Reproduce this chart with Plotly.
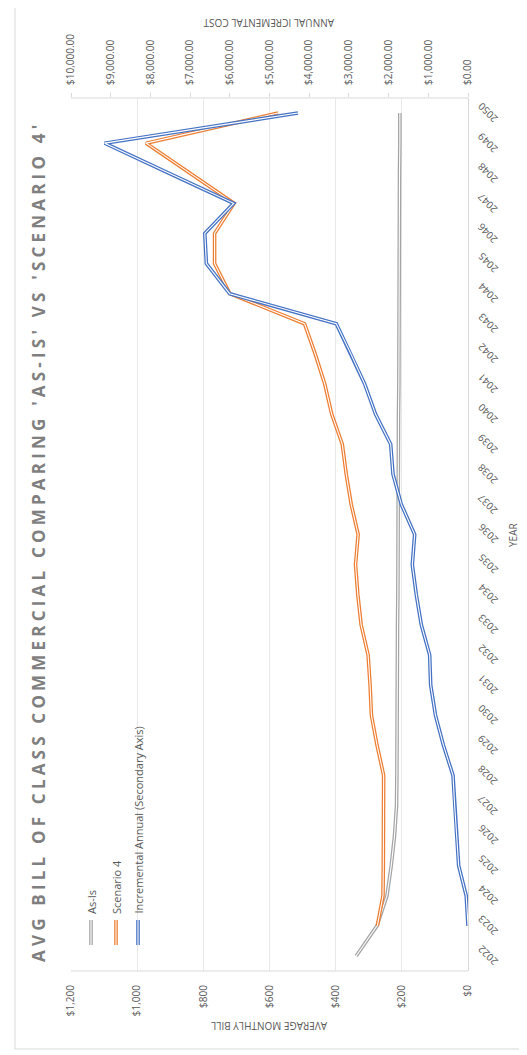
import plotly.graph_objects as go

years = list(range(2022, 2051))
as_is = [338, 275, 245, 232, 222, 216, 215, 215, 214, 214, 213, 213, 212, 212, 212,
         211, 211, 210, 210, 209, 209, 208, 208, 208, 207, 207, 207, 206, 206]
scenario4 = [None, 274, 257, 256, 256, 255, 255, 275, 292, 296, 302, 323, 333, 340, 332,
             353, 368, 380, 412, 433, 462, 494, 720, 766, 766, 707, 840, 973, 574]
incremental = [None, 0, 45, 235, 290, 336, 378, 620, 820, 940, 966, 1176, 1302, 1403, 1343,
               1680, 1889, 1948, 2330, 2603, 2950, 3317, 6003, 6590, 6630, 5902, 7527, 9152, 4282]

title_text = "AVG BILL OF CLASS COMMERCIAL COMPARING 'AS-IS' VS 'SCENARIO 4'"
series_names = ["As-Is", "Scenario 4", "Incremental Annual (Secondary Axis)"]
colors = ["#A5A5A5", "#ED7D31", "#4472C4"]
primary_ticks = [0, 200, 400, 600, 800, 1000, 1200]
secondary_ticks = list(range(0, 10001, 1000))

W, H = 527, 1055
L, R, T, B = 63, 460, 90, 963
TXT = "#595959"
FONT = "Open Sans"


def px(x):
    return (x - L) / (R - L)


def py(y):
    return (B - y) / (B - T)


fig = go.Figure()

data = [(as_is, "x"), (scenario4, "x"), (incremental, "x2")]
for (vals, xa), name, col in zip(data, series_names, colors):
    fig.add_trace(go.Scatter(x=vals, y=years, xaxis=xa, yaxis="y", mode="lines",
                             line=dict(color=col, width=3.6), name=name,
                             showlegend=False, hoverinfo="skip", connectgaps=False))
    fig.add_trace(go.Scatter(x=vals, y=years, xaxis=xa, yaxis="y", mode="lines",
                             line=dict(color="white", width=1.1), name=name,
                             showlegend=False, hoverinfo="skip", connectgaps=False))

shapes = []
annotations = []

# outer chart border
shapes.append(dict(type="rect", xref="paper", yref="paper",
                   x0=px(7), x1=px(560), y0=py(1041), y1=py(-20),
                   line=dict(color="#D9D9D9", width=1), fillcolor="rgba(0,0,0,0)", layer="below"))
# top and bottom plot lines
for yy in (T, B):
    shapes.append(dict(type="line", xref="paper", yref="paper", x0=0, x1=1, y0=py(yy), y1=py(yy),
                       line=dict(color="#D9D9D9", width=1), layer="below"))

# legend (rotated)
leg_x = [83, 108, 130]
for lx, name, col in zip(leg_x, series_names, colors):
    shapes.append(dict(type="line", xref="paper", yref="paper", x0=px(lx), x1=px(lx),
                       y0=py(912), y1=py(937), line=dict(color=col, width=3.6)))
    shapes.append(dict(type="line", xref="paper", yref="paper", x0=px(lx), x1=px(lx),
                       y0=py(912), y1=py(937), line=dict(color="white", width=1.1)))
    annotations.append(dict(text=name, xref="paper", yref="paper", x=px(lx), y=py(908),
                            xanchor="center", yanchor="bottom", textangle=-90, showarrow=False,
                            font=dict(family=FONT, size=11, color=TXT)))

# year labels (angled)
for yr in years:
    annotations.append(dict(text=str(yr), xref="paper", yref="y", x=px(480), y=yr,
                            xanchor="center", yanchor="middle", textangle=-135, showarrow=False,
                            font=dict(family=FONT, size=10, color=TXT)))

# title
annotations.append(dict(text='<span style="letter-spacing:4.2px"><b>' + title_text + "</b></span>",
                        xref="paper", yref="paper",
                        x=px(30), y=py(534), xanchor="center", yanchor="middle", textangle=-90,
                        showarrow=False, font=dict(family=FONT, size=17, color="#7F7F7F")))
# axis titles
annotations.append(dict(text="AVERAGE MONTHLY BILL", xref="paper", yref="paper",
                        x=px(261), y=py(1018), xanchor="center", yanchor="middle", textangle=180,
                        showarrow=False, font=dict(family=FONT, size=10, color=TXT)))
annotations.append(dict(text="ANNUAL ICREMENTAL COST", xref="paper", yref="paper",
                        x=px(261), y=py(15), xanchor="center", yanchor="middle", textangle=180,
                        showarrow=False, font=dict(family=FONT, size=10, color=TXT)))
annotations.append(dict(text="YEAR", xref="paper", yref="paper",
                        x=px(505), y=py(527), xanchor="center", yanchor="middle", textangle=-90,
                        showarrow=False, font=dict(family=FONT, size=10, color=TXT)))

fig.update_layout(
    width=W, height=H,
    margin=dict(l=L, r=W - R, t=T, b=H - B, pad=0),
    paper_bgcolor="white", plot_bgcolor="white",
    showlegend=False,
    font=dict(family=FONT, color=TXT, size=10),
    xaxis=dict(range=[1200, 0], tickvals=primary_ticks,
               ticktext=["$" + format(v, ",") for v in primary_ticks],
               tickangle=-90, showgrid=True, gridcolor="#E8E8E8", gridwidth=1,
               zeroline=False, showline=False, ticks="outside", ticklen=9, tickcolor="white",
               tickfont=dict(family=FONT, size=10, color=TXT), fixedrange=True),
    xaxis2=dict(range=[10000, 0], overlaying="x", side="top", anchor="y",
                tickvals=secondary_ticks,
                ticktext=["$" + format(v, ",.2f") for v in secondary_ticks],
                tickangle=-90, showgrid=False, zeroline=False, showline=False,
                ticks="outside", ticklen=4, tickcolor="#D9D9D9", ticklabelstandoff=6,
                tickfont=dict(family=FONT, size=10, color=TXT), fixedrange=True),
    yaxis=dict(range=[2021.5, 2050.5], side="right", tickvals=years,
               showticklabels=False,
               showgrid=False, zeroline=False, showline=True, linecolor="#D9D9D9",
               ticks="", fixedrange=True),
    shapes=shapes,
    annotations=annotations,
)

fig.write_html("out.html")
